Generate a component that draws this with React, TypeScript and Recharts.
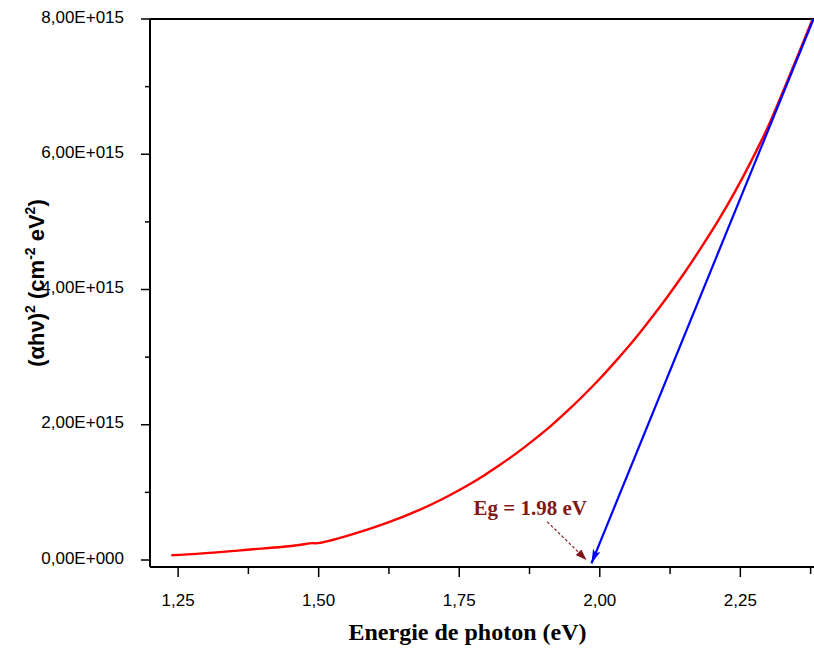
import React from 'react';
import { LineChart, Line, XAxis, YAxis, ReferenceLine, ReferenceDot } from 'recharts';

// Measured curve: (alpha h nu)^2 vs photon energy
const energy = [1.238, 1.253, 1.318, 1.378, 1.437, 1.465, 1.490, 1.494, 1.526, 1.555, 1.585, 1.615, 1.645, 1.674, 1.704, 1.733, 1.763, 1.792, 1.822, 1.852, 1.881, 1.911, 1.940, 1.970, 2.000, 2.030, 2.060, 2.090, 2.120, 2.150, 2.180, 2.210, 2.240, 2.270, 2.300, 2.330, 2.360, 2.381];
const absorption = [7.0e13, 7.6e13, 1.12e14, 1.55e14, 1.96e14, 2.22e14, 2.49e14, 2.46e14, 3.0e14, 3.68e14, 4.45e14, 5.30e14, 6.22e14, 7.22e14, 8.35e14, 9.58e14, 1.095e15, 1.24e15, 1.405e15, 1.58e15, 1.765e15, 1.968e15, 2.185e15, 2.425e15, 2.68e15, 2.955e15, 3.245e15, 3.56e15, 3.89e15, 4.24e15, 4.615e15, 5.01e15, 5.44e15, 5.91e15, 6.42e15, 7.01e15, 7.62e15, 8.05e15];

// Linear extrapolation (Tauc fit) line, from the Eg intercept up to the top
const fitEnergy = [1.9852, 2.3806];
const fitValue = [-4.9e13, 8.01e15];

// Annotation arrow for Eg
const egArrowEnergy = [1.9065, 1.9763];
const egArrowValue = [5.66e14, 0];
const EG_TEXT = 'Eg = 1.98 eV';
const EG_TEXT_X = 1.8763;
const EG_TEXT_Y = 6.65e14;

const X_MAJOR = [1.25, 1.5, 1.75, 2.0, 2.25];
const X_MAJOR_LABELS = ['1,25', '1,50', '1,75', '2,00', '2,25'];
const X_MINOR = [1.375, 1.625, 1.875, 2.125, 2.375];
const Y_MAJOR = [0, 2e15, 4e15, 6e15, 8e15];
const Y_MAJOR_LABELS = ['0,00E+000', '2,00E+015', '4,00E+015', '6,00E+015', '8,00E+015'];
const Y_MINOR = [1e15, 3e15, 5e15, 7e15];

const X_TITLE = 'Energie de photon (eV)';

const curveData = energy.map((x, i) => ({ x, y: absorption[i] }));
const fitData = fitEnergy.map((x, i) => ({ x, y: fitValue[i] }));
const egArrowData = egArrowEnergy.map((x, i) => ({ x, y: egArrowValue[i] }));

const X_TICKS = [...X_MAJOR, ...X_MINOR].sort((a, b) => a - b);
const Y_TICKS = [...Y_MAJOR, ...Y_MINOR].sort((a, b) => a - b);

const SANS = '"Liberation Sans", Arial, sans-serif';
const SERIF = '"Liberation Serif", "Times New Roman", serif';

const XTick = (props: any) => {
  const { x, y, payload } = props;
  const i = X_MAJOR.indexOf(payload.value);
  if (i < 0) {
    return <line x1={x} x2={x} y1={y} y2={y + 7} stroke="#000" strokeWidth={1.5} />;
  }
  return (
    <g>
      <line x1={x} x2={x} y1={y} y2={y + 10} stroke="#000" strokeWidth={1.5} />
      <text x={x} y={y + 39} textAnchor="middle" fontSize={17} fontFamily={SANS} fill="#000">
        {X_MAJOR_LABELS[i]}
      </text>
    </g>
  );
};

const YTick = (props: any) => {
  const { x, y, payload } = props;
  const i = Y_MAJOR.indexOf(payload.value);
  if (i < 0) {
    return <line x1={x - 5} x2={x} y1={y} y2={y} stroke="#000" strokeWidth={1.5} />;
  }
  return (
    <g>
      <line x1={x - 9} x2={x} y1={y} y2={y} stroke="#000" strokeWidth={1.5} />
      <text x={x - 26} y={y + 3.6} textAnchor="end" fontSize={17} fontFamily={SANS} fill="#000">
        {Y_MAJOR_LABELS[i]}
      </text>
    </g>
  );
};

const YTitle = (props: any) => {
  const vb = props.viewBox || { x: 0, y: 19, width: 150, height: 548 };
  const cx = vb.x + 44;
  const cy = vb.y + vb.height / 2 - 10;
  return (
    <text
      transform={`translate(${cx},${cy}) rotate(-90)`}
      x={0}
      y={0}
      textAnchor="middle"
      fontSize={22}
      fontWeight="bold"
      fontFamily={SANS}
      fill="#000"
    >
      <tspan>(αhν)</tspan>
      <tspan dy={-9} fontSize={14}>2</tspan>
      <tspan dy={9}> (cm</tspan>
      <tspan dy={-9} fontSize={14}>-2</tspan>
      <tspan dy={9}> eV</tspan>
      <tspan dy={-9} fontSize={14}>2</tspan>
      <tspan dy={9}>)</tspan>
    </text>
  );
};

const XTitle = (props: any) => {
  const vb = props.viewBox || { x: 150, y: 567, width: 664, height: 81 };
  return (
    <text
      x={vb.x + vb.width / 2 - 14.5}
      y={vb.y + 73}
      textAnchor="middle"
      fontSize={24}
      fontWeight="bold"
      fontFamily={SERIF}
      fill="#000"
    >
      {X_TITLE}
    </text>
  );
};

const EgText = (p: any) => (
  <text
    x={p.cx}
    y={p.cy}
    textAnchor="middle"
    fontSize={21}
    fontWeight="bold"
    fontFamily={SERIF}
    fill="#801818"
  >
    {EG_TEXT}
  </text>
);

export default function App() {
  return (
    <div style={{ position: 'absolute', left: 0, top: 0, width: 814, height: 648, background: '#fff' }}>
      <svg width={0} height={0} style={{ position: 'absolute' }}>
        <defs>
          <marker
            id="arrowBlue"
            viewBox="0 0 14 8"
            refX={14}
            refY={4}
            markerWidth={14}
            markerHeight={8}
            markerUnits="userSpaceOnUse"
            orient="auto-start-reverse"
          >
            <path d="M0,0 L14,4 L0,8 L3,4 z" fill="#0000FF" />
          </marker>
          <marker
            id="arrowRed"
            viewBox="0 0 11 8"
            refX={11}
            refY={4}
            markerWidth={11}
            markerHeight={8}
            markerUnits="userSpaceOnUse"
            orient="auto"
          >
            <path d="M0,0 L11,4 L0,8 z" fill="#801818" />
          </marker>
        </defs>
      </svg>
      <LineChart width={814} height={648} margin={{ top: 19, right: 0, bottom: 0, left: 0 }}>
        <XAxis
          type="number"
          dataKey="x"
          domain={[1.2, 2.381]}
          allowDataOverflow
          ticks={X_TICKS}
          interval={0}
          tickSize={0}
          tickMargin={0}
          tickLine={false}
          tick={<XTick />}
          axisLine={{ stroke: '#000', strokeWidth: 2 }}
          height={81}
          label={{ content: (p: any) => <XTitle {...p} /> }}
        />
        <YAxis
          type="number"
          dataKey="y"
          domain={[-1.035e14, 8e15]}
          allowDataOverflow
          ticks={Y_TICKS}
          interval={0}
          tickSize={0}
          tickMargin={0}
          tickLine={false}
          tick={<YTick />}
          axisLine={{ stroke: '#000', strokeWidth: 2 }}
          width={150}
          label={{ content: (p: any) => <YTitle {...p} /> }}
        />
        <ReferenceLine y={8e15} stroke="#000" strokeWidth={2} />
        <Line
          data={curveData}
          dataKey="y"
          type="monotone"
          stroke="#FF0000"
          strokeWidth={2.4}
          dot={false}
          activeDot={false}
          isAnimationActive={false}
        />
        <Line
          data={fitData}
          dataKey="y"
          type="linear"
          stroke="#0000FF"
          strokeWidth={2.2}
          dot={false}
          activeDot={false}
          isAnimationActive={false}
          markerStart="url(#arrowBlue)"
        />
        <Line
          data={egArrowData}
          dataKey="y"
          type="linear"
          stroke="#8B2A2A"
          strokeWidth={1.2}
          strokeDasharray="3 2"
          dot={false}
          activeDot={false}
          isAnimationActive={false}
          markerEnd="url(#arrowRed)"
        />
        <ReferenceDot x={EG_TEXT_X} y={EG_TEXT_Y} r={0} shape={(p: any) => <EgText {...p} />} />
      </LineChart>
    </div>
  );
}
